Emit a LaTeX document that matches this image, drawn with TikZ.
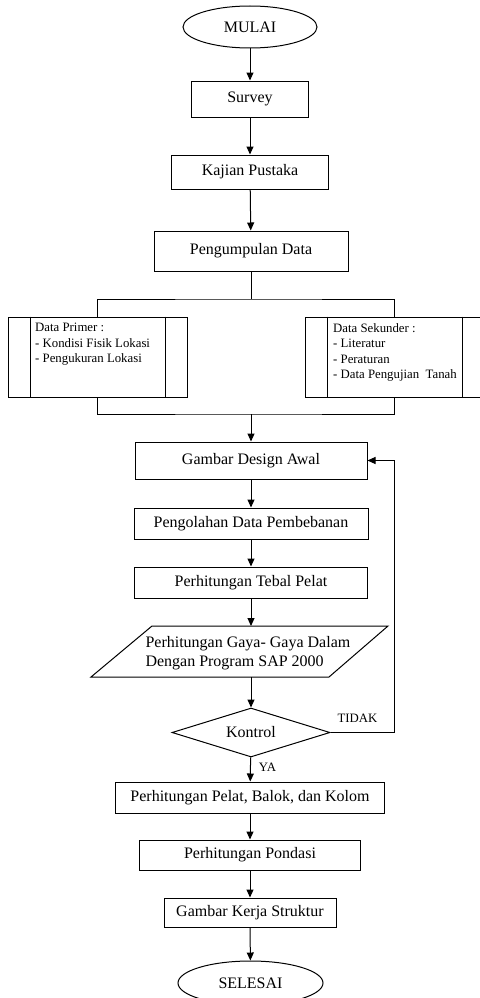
\documentclass[tikz,border=0pt]{standalone}
\usepackage{fontspec}
\setmainfont{Liberation Serif}
\usetikzlibrary{shapes.geometric,arrows.meta}

\begin{document}
\begin{tikzpicture}[x=1pt,y=-1pt,
  box/.style={draw, line width=1pt, inner sep=0pt, font=\fontsize{16}{19}\selectfont},
  oval/.style={box, ellipse},
  arr/.style={-{Triangle[length=8pt,width=7pt]}, line width=1pt},
  small/.style={font=\fontsize{12.8}{15.6}\selectfont, inner sep=0pt, align=left}]
  % Fix the page size
  \useasboundingbox (0,0) rectangle (479,998);

  % Start and first steps
  \node[oval, minimum width=134, minimum height=42] (mulai) at (250,27) {MULAI};
  \node[box, minimum width=117, minimum height=36] (survey) at (250,99) {Survey};
  \node[box, minimum width=157, minimum height=34] (kajian) at (250,172) {Kajian Pustaka};
  \node[box, minimum width=194, minimum height=40] (kumpul) at (251,251) {Pengumpulan Data};

  \draw[arr] (mulai) -- (survey);
  \draw[arr] (survey) -- (kajian);
  \draw[arr] (kajian) -- (kumpul);

  % Data boxes with double side lines
  \node[box, minimum width=179, minimum height=80] (primer) at (97.5,357) {};
  \node[box, minimum width=179, minimum height=80] (sekunder) at (394.5,357) {};
  \draw[line width=1pt] ([xshift=23]primer.north west) -- ([xshift=23]primer.south west);
  \draw[line width=1pt] ([xshift=-22]primer.north east) -- ([xshift=-22]primer.south east);
  \draw[line width=1pt] ([xshift=23]sekunder.north west) -- ([xshift=23]sekunder.south west);
  \draw[line width=1pt] ([xshift=-22]sekunder.north east) -- ([xshift=-22]sekunder.south east);
  \node[small, anchor=north west] (primertxt) at (35,323)
    {Data Primer :\\- Kondisi Fisik Lokasi\\- Pengukuran Lokasi};
  \node[small, anchor=north west] (sekundertxt) at (333,323)
    {Data Sekunder :\\- Literatur\\- Peraturan\\- Data Pengujian\ \ Tanah};

  % Split and merge lines
  \coordinate (split) at (251,299);
  \coordinate (merge) at (251,414);
  \draw[line width=1pt] (kumpul) -- (split);
  \draw[line width=1pt] (primer.north) |- (split) -| (sekunder.north);
  \draw[line width=1pt] (primer.south) |- (merge) -| (sekunder.south);

  % Design and calculation steps
  \node[box, minimum width=232, minimum height=37] (desain) at (251,460.5) {Gambar Design Awal};
  \node[box, minimum width=234, minimum height=31] (olah) at (251,523.5) {Pengolahan Data Pembebanan};
  \node[box, minimum width=233, minimum height=31] (tebal) at (251,582.5) {Perhitungan Tebal Pelat};

  \draw[arr] (merge) -- (desain);
  \draw[arr] (desain) -- (olah);
  \draw[arr] (olah) -- (tebal);

  % Parallelogram for SAP 2000
  \coordinate (sapA) at (152,626);
  \coordinate (sapB) at (388,626);
  \coordinate (sapC) at (329,677);
  \coordinate (sapD) at (91,677);
  \coordinate (saptop) at (251,626);
  \coordinate (sapbot) at (251,677);
  \draw[line width=1pt] (sapA) -- (sapB) -- (sapC) -- (sapD) -- cycle;
  \node[box, draw=none, align=left, anchor=west] (sap) at (145,653.5)
    {Perhitungan Gaya- Gaya Dalam\\Dengan Program SAP 2000};
  \draw[arr] (tebal) -- (saptop);

  % Check
  \node[box, diamond, aspect=3.2, minimum width=158, minimum height=49] (kontrol) at (251,732.5) {Kontrol};
  \draw[arr] (sapbot) -- (kontrol);
  \draw[arr] (kontrol.east) -- ++(64,0) |- (desain.east);
  \node[small] (tidak) at (357.5,718) {TIDAK};
  \node[small] (ya) at (267.5,767) {YA};

  % Final steps
  \node[box, minimum width=269, minimum height=31] (pelat) at (250,797.5) {Perhitungan Pelat, Balok, dan Kolom};
  \node[box, minimum width=221, minimum height=30] (pondasi) at (250,855) {Perhitungan Pondasi};
  \node[box, minimum width=172, minimum height=29] (kerja) at (250,912.5) {Gambar Kerja Struktur};
  \node[oval, minimum width=145, minimum height=44] (selesai) at (250.5,983) {SELESAI};

  \draw[arr] (kontrol) -- (pelat);
  \draw[arr] (pelat) -- (pondasi);
  \draw[arr] (pondasi) -- (kerja);
  \draw[arr] (kerja) -- (selesai);
\end{tikzpicture}
\end{document}
